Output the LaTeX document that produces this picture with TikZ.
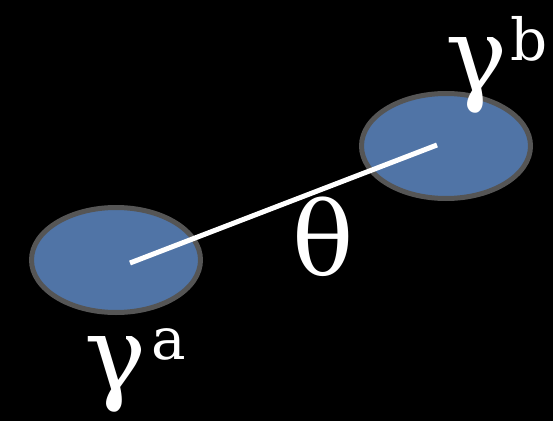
\documentclass[tikz,border=0pt]{standalone}
\usepackage{fontspec}
\newfontfamily\grkfont{DejaVu Serif}
\usetikzlibrary{shapes.geometric}
\definecolor{Dfill}{RGB}{80,116,166}
\definecolor{Dline}{RGB}{85,85,85}
\newcommand{\bigsym}[3]{{\grkfont\fontsize{104}{104}\selectfont #1}\hspace{#3}\raisebox{31pt}{\grkfont\fontsize{58}{58}\selectfont #2}}
\tikzset{
  blob/.style={ellipse,draw=Dline,line width=5pt,fill=Dfill,minimum width=169pt,minimum height=105pt,inner sep=0pt},
  lbl/.style={text=white,inner sep=0pt,anchor=base west}
}
\begin{document}
\begin{tikzpicture}[x=1pt,y=1pt,line cap=round,line join=round]
\path[use as bounding box,fill=black] (0,0) rectangle (553,421);
\node[blob] (da) at (116,161) {};
\node[blob] (db) at (446,275) {};
\coordinate (pa) at (130,158);
\coordinate (pb) at (437,276);
\draw[white,line width=5pt,line cap=butt] (pa) -- (pb);
\node[lbl] (ga) at (84,31) {\bigsym{γ}{a}{5pt}};
\node[lbl] (gb) at (445,329) {\bigsym{γ}{b}{3pt}};
\node[lbl] (th) at (292,146) {\grkfont\fontsize{102}{102}\selectfont θ};
\end{tikzpicture}
\end{document}
